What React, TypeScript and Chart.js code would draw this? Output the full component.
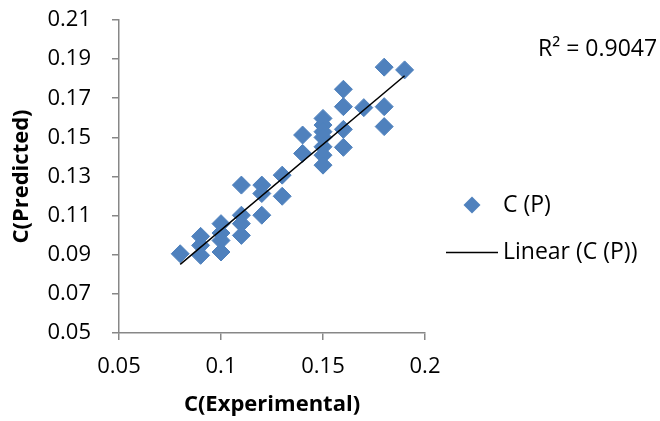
import React, { useEffect, useRef } from "react";
import { Chart, registerables } from "chart.js";

Chart.register(...registerables);

// C(Experimental) values
const expValues: number[] = [
  0.08,
  0.09, 0.09, 0.09,
  0.1, 0.1, 0.1, 0.1,
  0.11, 0.11, 0.11, 0.11,
  0.12, 0.12, 0.12,
  0.13, 0.13,
  0.14, 0.14,
  0.15, 0.15, 0.15, 0.15, 0.15, 0.15, 0.15,
  0.16, 0.16, 0.16, 0.16,
  0.17,
  0.18, 0.18, 0.18,
  0.19,
];

// C(Predicted) values
const predValues: number[] = [
  0.0905,
  0.0994, 0.0948, 0.0897,
  0.1059, 0.1011, 0.0973, 0.0914,
  0.1256, 0.1102, 0.1059, 0.0999,
  0.1256, 0.1213, 0.1102,
  0.1307, 0.1199,
  0.1512, 0.1418,
  0.1597, 0.1563, 0.1529, 0.150, 0.1452, 0.1409, 0.1358,
  0.1746, 0.1657, 0.1541, 0.1449,
  0.1652,
  0.1859, 0.1657, 0.1555,
  0.1845,
];

// Linear trendline end points
const trendX: number[] = [0.08, 0.19];
const trendY: number[] = [0.0851, 0.1815];

const seriesLabel = "C (P)";
const trendLabel = "Linear (C (P))";
const r2Label = "R\u00b2 = 0.9047";
const xTitle = "C(Experimental)";
const yTitle = "C(Predicted)";
const xTicks: number[] = [0.05, 0.1, 0.15, 0.2];
const yTicks: number[] = [0.05, 0.07, 0.09, 0.11, 0.13, 0.15, 0.17, 0.19, 0.21];

const FONT = "'Open Sans', 'Liberation Sans', sans-serif";
const BLUE = "#4F81BD";
const AXIS = "#878787";

export default function App() {
  const ref = useRef<HTMLCanvasElement | null>(null);

  useEffect(() => {
    if (!ref.current) return;
    const pts = expValues.map((x, i) => ({ x, y: predValues[i] }));
    const trend = trendX.map((x, i) => ({ x, y: trendY[i] }));

    const legendPlugin = {
      id: "customLegend",
      afterDraw(chart: any) {
        const ctx = chart.ctx;
        const area = chart.chartArea;
        ctx.save();
        ctx.font = `23px ${FONT}`;
        ctx.fillStyle = "#000";
        ctx.textBaseline = "middle";
        ctx.textAlign = "left";
        // R² label
        ctx.fillText(r2Label, area.right + 113, 49);
        // legend: series marker
        const mx = area.right + 47;
        const my = 205;
        const r = 8.5;
        ctx.beginPath();
        ctx.moveTo(mx - r, my);
        ctx.lineTo(mx, my - r);
        ctx.lineTo(mx + r, my);
        ctx.lineTo(mx, my + r);
        ctx.closePath();
        ctx.fillStyle = BLUE;
        ctx.fill();
        ctx.fillStyle = "#000";
        ctx.fillText(seriesLabel, area.right + 78, my);
        // legend: trend line
        const ly = 252.5;
        ctx.beginPath();
        ctx.moveTo(area.right + 21, ly);
        ctx.lineTo(area.right + 73, ly);
        ctx.strokeStyle = "#000";
        ctx.lineWidth = 1.5;
        ctx.stroke();
        ctx.fillText(trendLabel, area.right + 78, ly);
        ctx.restore();
      },
    };

    const chart = new Chart(ref.current, {
      type: "scatter",
      data: {
        datasets: [
          {
            label: seriesLabel,
            data: pts,
            pointStyle: "rectRot",
            pointRadius: 9,
            pointHoverRadius: 9,
            backgroundColor: BLUE,
            borderColor: BLUE,
            borderWidth: 1,
            order: 2,
          },
          {
            type: "line",
            label: trendLabel,
            data: trend,
            borderColor: "#000",
            borderWidth: 1.5,
            pointRadius: 0,
            showLine: true,
            fill: false,
            order: 1,
          } as any,
        ],
      },
      options: {
        animation: false,
        responsive: false,
        maintainAspectRatio: false,
        layout: { padding: { left: 0, top: 20, right: 235, bottom: 0 } },
        plugins: {
          legend: { display: false },
          tooltip: { enabled: false },
        },
        scales: {
          x: {
            type: "linear",
            min: 0.05,
            max: 0.2,
            afterBuildTicks(scale: any) {
              scale.ticks = xTicks.map((v) => ({ value: v }));
            },
            afterFit(scale: any) {
              scale.height = 88;
              scale.paddingLeft = 0;
              scale.paddingRight = 0;
            },
            ticks: {
              color: "#000",
              font: { family: FONT, size: 22 },
              padding: 14,
              callback: (v: any) => String(Number(Number(v).toFixed(2))),
            },
            grid: {
              display: true,
              drawOnChartArea: false,
              drawTicks: true,
              tickLength: 7,
              color: AXIS,
              lineWidth: 1.5,
            },
            border: { display: true, color: AXIS, width: 1.5 },
            title: {
              display: true,
              text: xTitle,
              color: "#000",
              font: { family: FONT, size: 22, weight: "bold" },
              padding: { top: 0, bottom: 3 },
            },
          },
          y: {
            type: "linear",
            min: 0.05,
            max: 0.21,
            afterBuildTicks(scale: any) {
              scale.ticks = yTicks.map((v) => ({ value: v }));
            },
            afterFit(scale: any) {
              scale.width = 119;
              scale.paddingTop = 0;
              scale.paddingBottom = 0;
            },
            ticks: {
              color: "#000",
              font: { family: FONT, size: 22 },
              padding: 21,
              callback: (v: any) => Number(v).toFixed(2),
            },
            grid: {
              display: true,
              drawOnChartArea: false,
              drawTicks: true,
              tickLength: 7,
              color: AXIS,
              lineWidth: 1.5,
            },
            border: { display: true, color: AXIS, width: 1.5 },
            title: {
              display: true,
              text: yTitle,
              color: "#000",
              font: { family: FONT, size: 22, weight: "bold" },
              padding: { top: 9, bottom: 0 },
            },
          },
        },
      },
      plugins: [legendPlugin],
    });
    return () => chart.destroy();
  }, []);

  return (
    <div style={{ position: "absolute", left: 0, top: 0, width: 660, height: 421, background: "#fff" }}>
      <canvas ref={ref} width={660} height={421} style={{ width: 660, height: 421, display: "block" }} />
    </div>
  );
}
